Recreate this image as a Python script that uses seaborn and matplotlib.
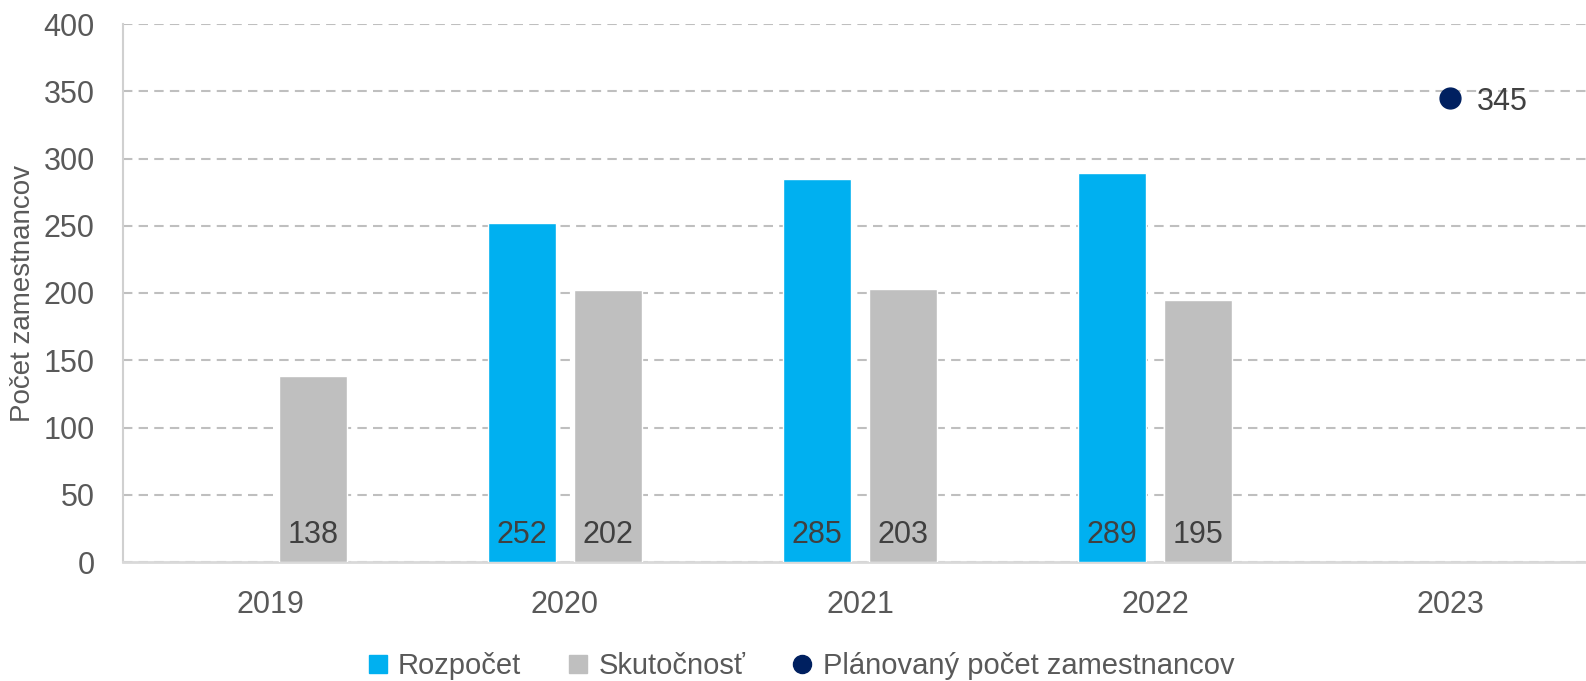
import pandas as pd
import numpy as np
import matplotlib.pyplot as plt
import seaborn as sns
from matplotlib.lines import Line2D

# Données
years = ["2019", "2020", "2021", "2022", "2023"]
budget_years = ["2020", "2021", "2022"]
budget_values = [252, 285, 289]
actual_years = ["2019", "2020", "2021", "2022"]
actual_values = [138, 202, 203, 195]
plan_year = "2023"
plan_value = 345

series_names = ["Rozpočet", "Skutočnosť"]
plan_name = "Plánovaný počet zamestnancov"
ylabel = "Počet zamestnancov"

colors = {"Rozpočet": "#00B0F0", "Skutočnosť": "#BFBFBF"}
plan_color = "#002060"
text_color = "#404040"

df = pd.concat([
    pd.DataFrame({"rok": budget_years, "pocet": budget_values, "typ": series_names[0]}),
    pd.DataFrame({"rok": actual_years, "pocet": actual_values, "typ": series_names[1]}),
])

sns.set_theme(style="white")
plt.rcParams['font.family'] = ['Liberation Sans Narrow', 'Liberation Sans', 'DejaVu Sans']

fig = plt.figure(figsize=(15.86, 6.81), dpi=100)
ax = fig.add_axes([122.5 / 1586, 119 / 681, 1 - 122.5 / 1586, 538 / 681])

sns.barplot(data=df, x="rok", y="pocet", hue="typ", order=years, hue_order=series_names,
            palette=colors, saturation=1, width=0.58, gap=0.21, edgecolor="white",
            linewidth=1, legend=False, ax=ax, zorder=3)

# Étiquettes de valeurs en bas des barres
for cont in ax.containers:
    for bar in cont:
        h = bar.get_height()
        if np.isnan(h):
            continue
        ax.annotate(f"{h:.0f}", xy=(bar.get_x() + bar.get_width() / 2, 0),
                    xytext=(0, 19), textcoords="offset pixels",
                    ha="center", va="baseline", fontsize=22, color=text_color, zorder=5)

# Point planifié 2023
px = years.index(plan_year)
ax.plot([px], [plan_value], marker="o", linestyle="", markersize=15,
        color=plan_color, zorder=4)
ax.annotate(f"{plan_value}", xy=(px, plan_value), xytext=(27, -4),
            textcoords="offset pixels", ha="left", va="center",
            fontsize=22, color=text_color, zorder=5)

ax.set_ylim(0, 400)
ax.set_yticks(np.arange(0, 401, 50))
ax.set_xlim(-0.5, -0.5 + (1586 - 122.5) / 295)

ax.yaxis.grid(True, color="#BFBFBF", linewidth=1.5, linestyle=(0, (4.5, 3)), zorder=0)
ax.xaxis.grid(False)
ax.set_axisbelow(True)

for s in ["top", "right"]:
    ax.spines[s].set_visible(False)
ax.spines["left"].set_color("#D0D0D0")
ax.spines["left"].set_linewidth(1.5)
ax.spines["bottom"].set_color("#D9D9D9")
ax.spines["bottom"].set_linewidth(2)

ax.tick_params(axis="x", length=0, pad=20, labelsize=22, labelcolor="#595959")
ax.tick_params(axis="y", length=0, pad=20, labelsize=22, labelcolor="#595959")

ax.set_xlabel("")
ax.set_ylabel(ylabel, fontsize=20, color="#595959")
ax.yaxis.set_label_coords((36 - 122.5) / 1463.5, 0.5)

handles = [
    Line2D([], [], marker="s", linestyle="", markersize=13, color=colors[series_names[0]]),
    Line2D([], [], marker="s", linestyle="", markersize=13, color=colors[series_names[1]]),
    Line2D([], [], marker="o", linestyle="", markersize=13, color=plan_color),
]
fig.legend(handles, series_names + [plan_name], loc="lower center",
           bbox_to_anchor=(0.505, -0.037), ncol=3, frameon=False, fontsize=21,
           handlelength=0.7, handletextpad=0.35, columnspacing=1.6,
           labelcolor="#595959")

plt.savefig("out.png", dpi=100)
